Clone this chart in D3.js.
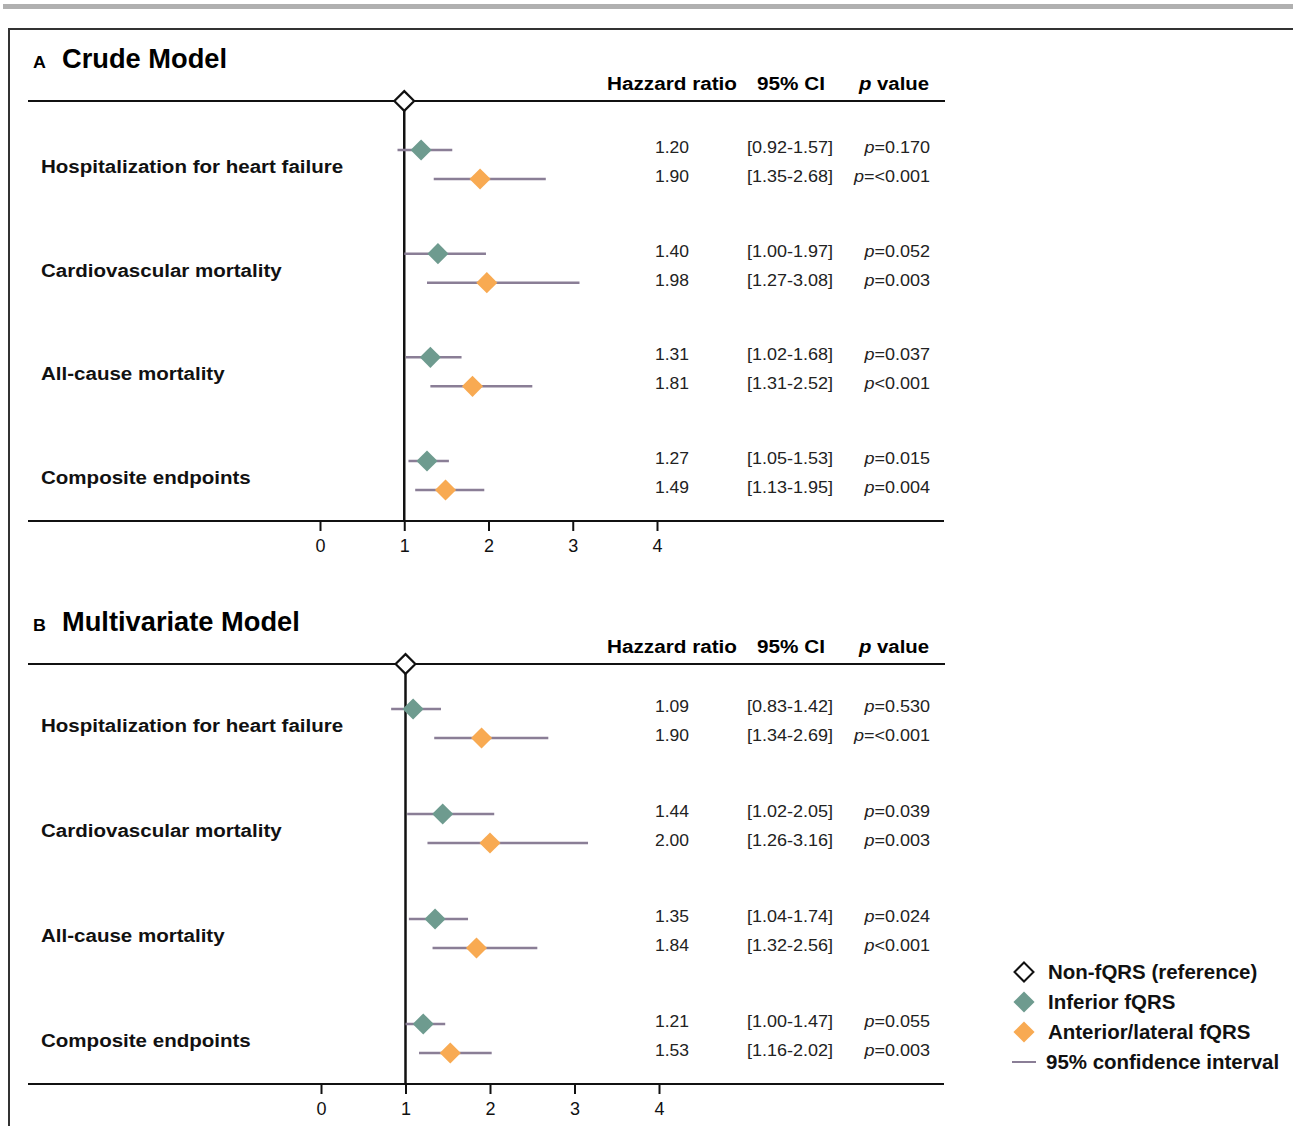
<!DOCTYPE html>
<html>
<head>
<meta charset="utf-8">
<script src="https://cdn.jsdelivr.net/npm/d3@7"></script>
<style>
  html, body { margin: 0; padding: 0; background: #fff; }
  svg { display: block; font-family: "Liberation Sans", Arial, Helvetica, sans-serif; }
</style>
</head>
<body>
<svg id="chart" width="1293" height="1126"></svg>
<script>
// Outcomes shown in each panel
const outcomes = [
  "Hospitalization for heart failure",
  "Cardiovascular mortality",
  "All-cause mortality",
  "Composite endpoints"
];

// Crude model: hazard ratios with 95% CI
const crudeInfHR  = [1.20, 1.40, 1.31, 1.27];
const crudeInfLo  = [0.92, 1.00, 1.02, 1.05];
const crudeInfHi  = [1.57, 1.97, 1.68, 1.53];
const crudeInfP   = ["=0.170", "=0.052", "=0.037", "=0.015"];
const crudeAntHR  = [1.90, 1.98, 1.81, 1.49];
const crudeAntLo  = [1.35, 1.27, 1.31, 1.13];
const crudeAntHi  = [2.68, 3.08, 2.52, 1.95];
const crudeAntP   = ["=<0.001", "=0.003", "<0.001", "=0.004"];

// Multivariate model: hazard ratios with 95% CI
const multiInfHR  = [1.09, 1.44, 1.35, 1.21];
const multiInfLo  = [0.83, 1.02, 1.04, 1.00];
const multiInfHi  = [1.42, 2.05, 1.74, 1.47];
const multiInfP   = ["=0.530", "=0.039", "=0.024", "=0.055"];
const multiAntHR  = [1.90, 2.00, 1.84, 1.53];
const multiAntLo  = [1.34, 1.26, 1.32, 1.16];
const multiAntHi  = [2.69, 3.16, 2.56, 2.02];
const multiAntP   = ["=<0.001", "=0.003", "<0.001", "=0.003"];

const xTicks = [0, 1, 2, 3, 4];
const columnHeads = ["Hazzard ratio", "95% CI", "value"];
const legendLabels = ["Non-fQRS (reference)", "Inferior fQRS", "Anterior/lateral fQRS", "95% confidence interval"];

const GREEN = "#6e9b8f";
const ORANGE = "#f8aa52";
const CI_COLOR = "#8a7e96";

const svg = d3.select("#chart");

// page decoration: grey rule and frame
svg.append("rect").attr("x", 3).attr("y", 4).attr("width", 1290).attr("height", 5).attr("fill", "#b0b0b0");
svg.append("path").attr("d", "M9,1126 V29 H1293").attr("fill", "none").attr("stroke", "#333").attr("stroke-width", 2);

const diamond = d3.symbol().type(d3.symbolDiamond2);

// text placed at (x, y), widened horizontally by factor sx
function wideText(parent, x, y, sx, anchor) {
  return parent.append("text")
    .attr("transform", `translate(${x},${y}) scale(${sx},1)`)
    .attr("text-anchor", anchor || "start");
}

function buildSeries(hr, lo, hi, p) {
  return outcomes.map((o, i) => ({ outcome: o, hr: hr[i], lo: lo[i], hi: hi[i], p: p[i] }));
}

function drawPanel(opts) {
  const g = svg.append("g");
  const x = d3.scaleLinear().domain([0, 4]).range(opts.xRange);
  const y = d3.scalePoint().domain(outcomes).range(opts.yRange);
  const top = opts.topY, bottom = opts.bottomY;

  // panel letter and title
  wideText(g, 33, opts.titleY, 1.05).attr("font-size", 17).attr("font-weight", "bold").text(opts.letter);
  wideText(g, 62, opts.titleY, 1.01).attr("font-size", 27).attr("font-weight", "bold").text(opts.title);

  // column headers
  const headY = top - 11;
  wideText(g, 672, headY, 1.12, "middle").attr("font-size", 18.5).attr("font-weight", "bold").text(columnHeads[0]);
  wideText(g, 791, headY, 1.12, "middle").attr("font-size", 18.5).attr("font-weight", "bold").text(columnHeads[1]);
  const ph = wideText(g, 894, headY, 1.1, "middle").attr("font-size", 18.5).attr("font-weight", "bold");
  ph.append("tspan").attr("font-style", "italic").text("p ");
  ph.append("tspan").text(columnHeads[2]);

  // top rule
  g.append("line").attr("x1", 28).attr("x2", 945).attr("y1", top).attr("y2", top).attr("stroke", "#111").attr("stroke-width", 2);

  // x axis at the bottom
  const axis = d3.axisBottom(x).tickValues(xTicks).tickSize(10).tickPadding(8).tickFormat(d3.format("d"));
  const ax = g.append("g").attr("transform", `translate(0,${bottom})`).call(axis);
  ax.select(".domain").remove();
  ax.selectAll(".tick line").attr("stroke", "#111").attr("stroke-width", 2);
  ax.selectAll(".tick text").attr("font-size", 18).attr("fill", "#111").attr("font-family", "Liberation Sans, Arial, sans-serif");
  g.append("line").attr("x1", 28).attr("x2", 944).attr("y1", bottom).attr("y2", bottom).attr("stroke", "#111").attr("stroke-width", 2);

  // reference line at HR = 1
  g.append("line").attr("x1", x(1)).attr("x2", x(1)).attr("y1", top).attr("y2", bottom).attr("stroke", "#111").attr("stroke-width", 2.5);
  g.append("path").attr("d", diamond.size(250)()).attr("transform", `translate(${x(1)},${top})`)
    .attr("fill", "#fff").attr("stroke", "#111").attr("stroke-width", 2.2);

  // outcome labels
  outcomes.forEach(o => {
    wideText(g, 41, y(o) + 9, 1.11).attr("font-size", 18.5).attr("font-weight", "bold").attr("fill", "#111").text(o);
  });

  const series = [
    { rows: opts.inf, dy: -14, color: GREEN },
    { rows: opts.ant, dy: 15, color: ORANGE }
  ];

  series.forEach(s => {
    const rg = g.append("g");
    rg.selectAll("line.ci").data(s.rows).join("line").attr("class", "ci")
      .attr("x1", d => x(d.lo)).attr("x2", d => x(d.hi))
      .attr("y1", d => y(d.outcome) + s.dy).attr("y2", d => y(d.outcome) + s.dy)
      .attr("stroke", CI_COLOR).attr("stroke-width", 2.5);
    rg.selectAll("path.pt").data(s.rows).join("path").attr("class", "pt")
      .attr("d", diamond.size(285)())
      .attr("transform", d => `translate(${x(d.hr)},${y(d.outcome) + s.dy})`)
      .attr("fill", s.color);

    const ty = d => y(d.outcome) + s.dy + 3;
    rg.selectAll("text.hr").data(s.rows).join("text").attr("class", "hr")
      .attr("transform", d => `translate(672,${ty(d)}) scale(1.03,1)`)
      .attr("text-anchor", "middle").attr("font-size", 17).attr("fill", "#222")
      .text(d => d.hr.toFixed(2));
    rg.selectAll("text.ci").data(s.rows).join("text").attr("class", "ci")
      .attr("transform", d => `translate(790,${ty(d)}) scale(1.06,1)`)
      .attr("text-anchor", "middle").attr("font-size", 17).attr("fill", "#222")
      .text(d => `[${d.lo.toFixed(2)}-${d.hi.toFixed(2)}]`);
    const pt = rg.selectAll("text.pv").data(s.rows).join("text").attr("class", "pv")
      .attr("transform", d => `translate(930,${ty(d)}) scale(1.06,1)`)
      .attr("text-anchor", "end").attr("font-size", 17).attr("fill", "#222");
    pt.append("tspan").attr("font-style", "italic").text("p");
    pt.append("tspan").text(d => d.p);
  });
}

drawPanel({
  letter: "A", title: "Crude Model", titleY: 68,
  topY: 101, bottomY: 521,
  xRange: [320, 657], yRange: [164, 475],
  inf: buildSeries(crudeInfHR, crudeInfLo, crudeInfHi, crudeInfP),
  ant: buildSeries(crudeAntHR, crudeAntLo, crudeAntHi, crudeAntP)
});

drawPanel({
  letter: "B", title: "Multivariate Model", titleY: 631,
  topY: 664, bottomY: 1084,
  xRange: [321, 659], yRange: [723, 1038],
  inf: buildSeries(multiInfHR, multiInfLo, multiInfHi, multiInfP),
  ant: buildSeries(multiAntHR, multiAntLo, multiAntHi, multiAntP)
});

// legend
const lg = svg.append("g").attr("transform", "translate(1024,972)");
const legendRows = [
  { kind: "open" }, { kind: "fill", color: GREEN }, { kind: "fill", color: ORANGE }, { kind: "line" }
];
legendRows.forEach((r, i) => {
  const yy = i * 30;
  if (r.kind === "open") {
    lg.append("path").attr("d", diamond.size(230)()).attr("transform", `translate(0,${yy})`)
      .attr("fill", "#fff").attr("stroke", "#111").attr("stroke-width", 2);
  } else if (r.kind === "fill") {
    lg.append("path").attr("d", diamond.size(285)()).attr("transform", `translate(0,${yy})`).attr("fill", r.color);
  } else {
    lg.append("line").attr("x1", -12).attr("x2", 12).attr("y1", yy).attr("y2", yy).attr("stroke", CI_COLOR).attr("stroke-width", 2);
  }
  wideText(lg, r.kind === "line" ? 22 : 24, yy + 7, 1.05).attr("font-size", 19.5)
    .attr("font-weight", "bold").attr("fill", "#111").text(legendLabels[i]);
});
</script>
</body>
</html>
